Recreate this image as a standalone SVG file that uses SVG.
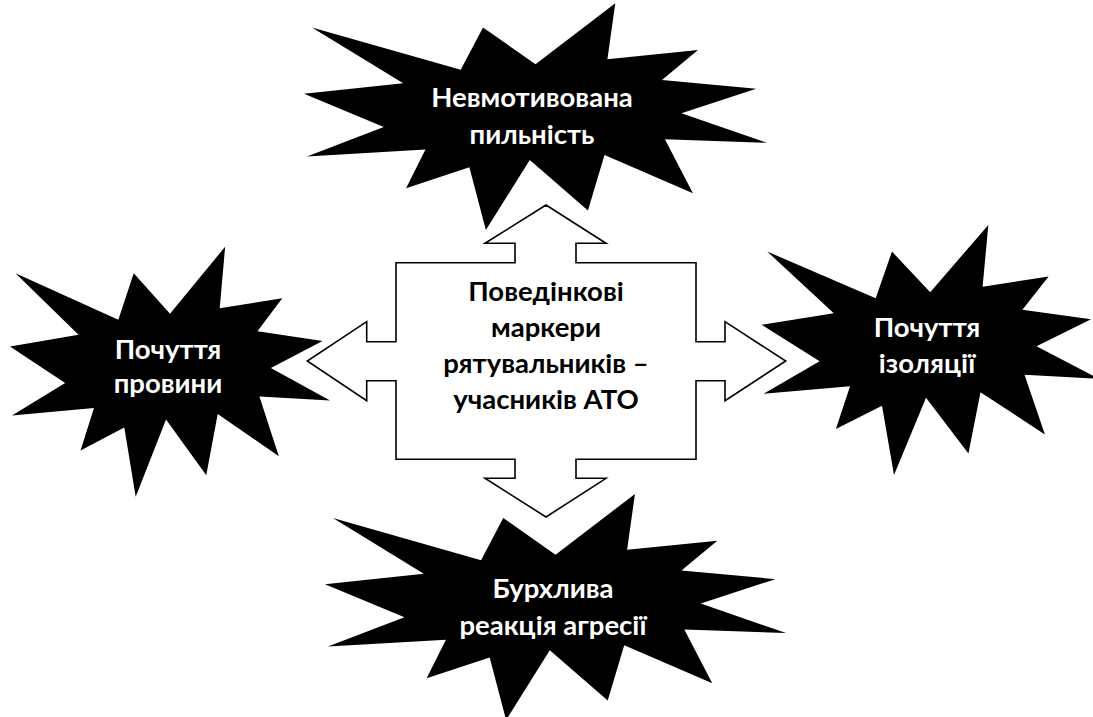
<svg xmlns="http://www.w3.org/2000/svg" xmlns:xlink="http://www.w3.org/1999/xlink" width="1093" height="717" viewBox="0 0 1093 717">
  <style>
    .burst { fill: #000000; stroke: none; }
    .quad { fill: #ffffff; stroke: #000000; stroke-width: 1.6; stroke-linejoin: miter; }
    .lbl { font-family: Lato, "Open Sans", "DejaVu Sans", sans-serif; font-weight: bold; font-size: 27.5px; text-anchor: middle; }
    .w { fill: #ffffff; }
    .k { fill: #000000; }
  </style>
  <defs>
    <path id="seal" d="M10800,5800 L14522,0 L14155,5325 L18380,4457 L16702,7315 L21097,8137 L17607,10475 L21600,13290 L16837,12942 L18145,18095 L14020,14457 L13247,19737 L10532,14935 L8485,21600 L7715,15627 L4762,17617 L5667,13937 L135,14587 L3722,11775 L0,8615 L4627,7617 L370,2295 L7312,6320 L8352,2295 Z"/>
  </defs>
  <rect x="0" y="0" width="1093" height="717" fill="#ffffff"/>

  <g id="connectors"></g>

  <g id="node-top">
    <use xlink:href="#seal" href="#seal" class="burst" transform="translate(304,3.3) scale(0.021435,0.010495)"/>
    <text class="lbl w" x="532" y="107">Невмотивована</text>
    <text class="lbl w" x="532" y="144">пильність</text>
  </g>

  <g id="node-left">
    <use xlink:href="#seal" href="#seal" class="burst" transform="translate(10,246.7) scale(0.014815,0.011574)"/>
    <text class="lbl w" x="168" y="359">Почуття</text>
    <text class="lbl w" x="168" y="393">провини</text>
  </g>

  <g id="node-right">
    <use xlink:href="#seal" href="#seal" class="burst" transform="translate(761.5,225) scale(0.015620,0.011574)"/>
    <text class="lbl w" x="927" y="337">Почуття</text>
    <text class="lbl w" x="927" y="373">ізоляції</text>
  </g>

  <g id="node-bottom">
    <use xlink:href="#seal" href="#seal" class="burst" transform="translate(325,494) scale(0.021343,0.010463)"/>
    <text class="lbl w" x="553" y="598">Бурхлива</text>
    <text class="lbl w" x="553" y="635">реакція агресії</text>
  </g>

  <g id="node-center">
    <path class="quad" d="M546,205 L606,243.3 L576,243.3 L576,262.7 L696,262.7 L696,341.7 L725,341.7 L725,321.7 L785.7,361 L725,400.7 L725,380.7 L696,380.7 L696,459.3 L576,459.3 L576,478.3 L606,478.3 L546,517 L485,478.3 L515,478.3 L515,459.3 L396,459.3 L396,380.7 L366.7,380.7 L366.7,400.7 L307.3,361 L366.7,321.7 L366.7,341.7 L396,341.7 L396,262.7 L515,262.7 L515,243.3 L485,243.3 Z"/>
    <text class="lbl k" x="546" y="301">Поведінкові</text>
    <text class="lbl k" x="546" y="337">маркери</text>
    <text class="lbl k" x="546" y="373">рятувальників –</text>
    <text class="lbl k" x="546" y="409">учасників АТО</text>
  </g>
</svg>
